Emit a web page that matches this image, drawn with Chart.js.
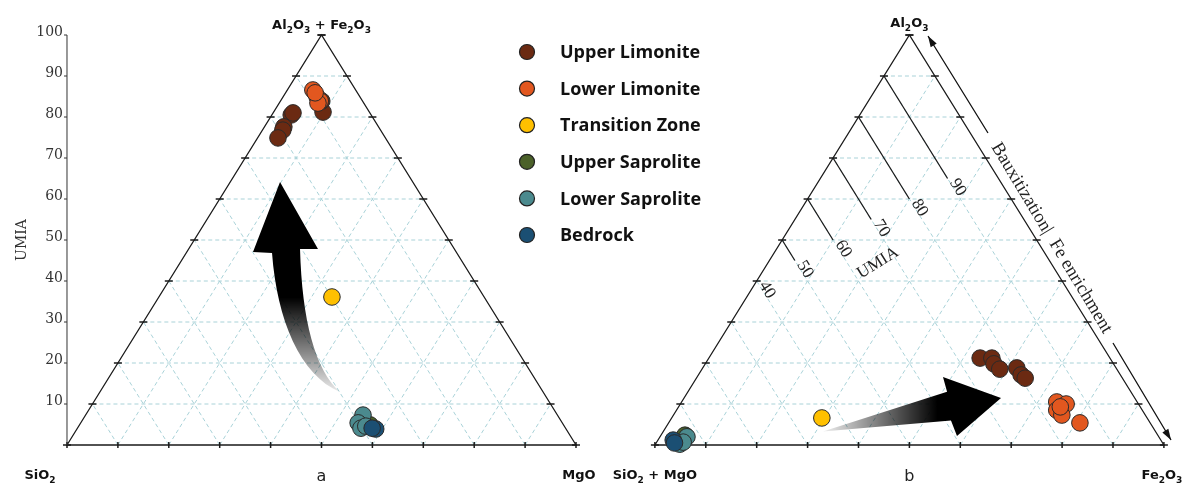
<!DOCTYPE html>
<html><head><meta charset="utf-8">
<script src="https://cdn.jsdelivr.net/npm/chart.js@4.4.0/dist/chart.umd.min.js"></script>
<style>html,body{margin:0;padding:0;background:#fff;}#wrap{width:1184px;height:484px;position:relative;}</style>
</head><body><div id="wrap"><canvas id="c"></canvas></div>
<script>
// ---------------- data ----------------
const seriesNames = ['Upper Limonite','Lower Limonite','Transition Zone','Upper Saprolite','Lower Saprolite','Bedrock'];
const seriesColors = ['#6b2a12','#e2571f','#ffc000','#4b6129','#4b8a8e','#1b4f73'];

// Diagram a : [SiO2, Al2O3+Fe2O3, MgO] (%)
const aUpperLimonite = [[15.7,80.5,3.8],[15.1,81.0,3.9],[18.6,77.6,3.8],[19.2,76.8,4.0],[21.1,74.9,4.0],[9.1,81.2,9.7],[8.0,83.9,8.1]];
const aLowerLimonite = [[8.4,86.6,5.0],[8.4,84.9,6.7],[8.3,83.9,7.8],[9.0,83.4,7.6],[8.3,85.9,5.8]];
const aTransition    = [[29.9,36.1,34.0]];
const aUpperSaprolite= [[38.0,4.9,57.1]];
const aLowerSaprolite= [[38.2,7.3,54.5],[40.1,5.4,54.5],[40.2,4.1,55.7],[39.0,4.6,56.4]];
const aBedrock       = [[37.4,3.9,58.7],[38.0,4.1,57.9]];

// Diagram b : [SiO2+MgO, Al2O3, Fe2O3] (%)
const bUpperLimonite = [[25.5,21.2,53.3],[23.2,21.2,55.6],[23.5,19.8,56.7],[23.0,18.5,58.5],[19.5,18.8,61.7],[19.5,17.1,63.4],[19.1,16.3,64.6]];
const bLowerLimonite = [[15.8,10.5,73.7],[14.2,10.0,75.8],[16.8,8.5,74.7],[16.4,7.3,76.3],[13.8,5.4,80.8],[15.7,9.3,75.0]];
const bTransition    = [[63.9,6.6,29.5]];
const bUpperSaprolite= [[92.9,2.4,4.7]];
const bLowerSaprolite= [[92.7,2.0,5.3],[95.0,0.2,4.8],[94.1,0.7,5.2]];
const bBedrock       = [[95.8,1.2,3.0],[95.9,0.5,3.6]];

const yTicks = [10,20,30,40,50,60,70,80,90,100];
const gridLevels = [10,20,30,40,50,60,70,80,90];
const tickLevels = [0,10,20,30,40,50,60,70,80,90,100];
const umiaLabels = ['40','50','60','70','80','90'];
const umiaValues = [40,50,60,70,80,90];
const umiaLineFe = [0,5,10,15,20,25];

const aSeries = [aUpperLimonite,aLowerLimonite,aTransition,aUpperSaprolite,aLowerSaprolite,aBedrock];
const bSeries = [bUpperLimonite,bLowerLimonite,bTransition,bUpperSaprolite,bLowerSaprolite,bBedrock];

// ---------------- layout ----------------
const B_OFFSET = 115.5;
const X_MIN=-13.163, X_MAX=219.45, Y_MIN=-9.512, Y_MAX=108.54;
function tern(off, top, right){ return {x: off + right + top/2, y: top}; }

function drawChem(ctx, str, cx, baseY, size, align){
  const parts = str.split(/_(\d)/);
  const mainF = 'bold '+size+'px "DejaVu Sans"';
  const subF = 'bold '+Math.round(size*0.7)+'px "DejaVu Sans"';
  let w=0;
  parts.forEach((p,i)=>{ ctx.font = i%2? subF: mainF; w += ctx.measureText(p).width; });
  let x = align==='left'? cx : cx - w/2;
  ctx.textAlign='left'; ctx.textBaseline='alphabetic'; ctx.fillStyle='#111';
  parts.forEach((p,i)=>{
    ctx.font = i%2? subF: mainF;
    ctx.fillText(p, x, baseY + (i%2? size*0.28:0));
    x += ctx.measureText(p).width;
  });
}

const triPlugin = {
  id:'tri',
  beforeDatasetsDraw(chart){
    const ctx = chart.ctx;
    const X = v=>chart.scales.x.getPixelForValue(v), Y = v=>chart.scales.y.getPixelForValue(v);
    const P = p=>[X(p.x), Y(p.y)];
    const line=(a,b)=>{ctx.beginPath(); ctx.moveTo(...P(a)); ctx.lineTo(...P(b)); ctx.stroke();};
    ctx.save();
    [0,B_OFFSET].forEach(off=>{
      ctx.strokeStyle='#a9d2d8'; ctx.lineWidth=1; ctx.setLineDash([4,3]);
      gridLevels.forEach(k=>{
        line(tern(off,k,0), tern(off,k,100-k));
        line(tern(off,0,k), tern(off,100-k,k));
        line(tern(off,0,100-k), tern(off,100-k,0));
      });
      ctx.setLineDash([]);
      ctx.strokeStyle='#1a1a1a'; ctx.lineWidth=1.3;
      ctx.beginPath(); ctx.moveTo(...P(tern(off,0,0))); ctx.lineTo(...P(tern(off,0,100))); ctx.lineTo(...P(tern(off,100,0))); ctx.closePath(); ctx.stroke();
      ctx.lineWidth=1.5;
      tickLevels.forEach(k=>{
        let [x,y]=P(tern(off,k,0)); ctx.beginPath(); ctx.moveTo(x-4,y); ctx.lineTo(x+4,y); ctx.stroke();
        [x,y]=P(tern(off,k,100-k)); ctx.beginPath(); ctx.moveTo(x-4,y); ctx.lineTo(x+4,y); ctx.stroke();
        [x,y]=P(tern(off,0,k)); ctx.beginPath(); ctx.moveTo(x,y-3); ctx.lineTo(x,y+3); ctx.stroke();
      });
    });
    // left y axis (UMIA)
    ctx.strokeStyle='#333'; ctx.lineWidth=1;
    ctx.beginPath(); ctx.moveTo(X(0),Y(0)); ctx.lineTo(X(0),Y(100)); ctx.stroke();
    ctx.font='14px "DejaVu Serif"'; ctx.fillStyle='#333'; ctx.textAlign='right'; ctx.textBaseline='alphabetic';
    yTicks.forEach(v=>{
      ctx.beginPath(); ctx.moveTo(X(0)-3,Y(v)); ctx.lineTo(X(0),Y(v)); ctx.stroke();
      ctx.fillText(String(v), X(0)-4, Y(v)+1);
    });
    ctx.save(); ctx.translate(X(0)-45, Y(50)); ctx.rotate(-Math.PI/2); ctx.textAlign='center'; ctx.textBaseline='middle';
    ctx.font='14px "DejaVu Serif"'; ctx.fillText('UMIA',0,0); ctx.restore();

    // UMIA lines in diagram b
    const e0=P(tern(B_OFFSET,100,0)), e1=P(tern(B_OFFSET,0,100));
    const ang=Math.atan2(e1[1]-e0[1], e1[0]-e0[0]);
    const ca=Math.cos(ang), sa=Math.sin(ang);
    ctx.strokeStyle='#1a1a1a'; ctx.lineWidth=1.3;
    umiaValues.forEach((u,i)=>{
      const s=P(tern(B_OFFSET,u,0)), e=P(tern(B_OFFSET,u-umiaLineFe[i],umiaLineFe[i]));
      if(umiaLineFe[i]>0){ ctx.beginPath(); ctx.moveTo(...s); ctx.lineTo(...e); ctx.stroke(); }
      const lx=e[0]+13*ca+4*sa, ly=e[1]+13*sa-4*ca;
      ctx.save(); ctx.translate(lx,ly); ctx.rotate(ang); ctx.font='17px "Liberation Serif"'; ctx.fillStyle='#222';
      ctx.textAlign='center'; ctx.textBaseline='middle'; ctx.fillText(umiaLabels[i],0,0); ctx.restore();
    });
    ctx.save(); ctx.translate(X(159.33),Y(44.39)); ctx.rotate(ang-Math.PI/2); ctx.font='17px "Liberation Serif"'; ctx.fillStyle='#222';
    ctx.textAlign='center'; ctx.textBaseline='middle'; ctx.fillText('UMIA',0,0); ctx.restore();

    // Bauxitization / Fe enrichment arrow
    const bs=[X(169.16),Y(99.76)], b1=[X(180.94),Y(76.10)], b2=[X(205.5),Y(24.88)], be=[X(216.9),Y(1.22)];
    const bang=Math.atan2(be[1]-bs[1], be[0]-bs[0]);
    ctx.strokeStyle='#111'; ctx.fillStyle='#111'; ctx.lineWidth=1.3;
    ctx.beginPath(); ctx.moveTo(...bs); ctx.lineTo(...b1); ctx.moveTo(...b2); ctx.lineTo(...be); ctx.stroke();
    const head=(p,a)=>{ ctx.save(); ctx.translate(p[0],p[1]); ctx.rotate(a); ctx.beginPath(); ctx.moveTo(0,0); ctx.lineTo(-11,-3.5); ctx.lineTo(-11,3.5); ctx.closePath(); ctx.fill(); ctx.restore(); };
    head(bs, bang+Math.PI); head(be, bang);
    ctx.save(); ctx.translate((b1[0]+b2[0])/2+1,(b1[1]+b2[1])/2); ctx.rotate(bang); ctx.font='18.5px "Liberation Serif"'; ctx.fillStyle='#222';
    ctx.textAlign='center'; ctx.textBaseline='middle'; ctx.fillText('Bauxitization|  Fe enrichment',0,0); ctx.restore();

    // curved arrow (diagram a)
    let g=ctx.createLinearGradient(0,Y(36),0,Y(12.9));
    g.addColorStop(0,'rgba(0,0,0,1)'); g.addColorStop(1,'rgba(0,0,0,0.08)');
    ctx.fillStyle=g;
    ctx.beginPath();
    ctx.moveTo(X(45.78),Y(47.80)); ctx.lineTo(X(49.31),Y(47.80)); ctx.lineTo(X(41.85),Y(64.15)); ctx.lineTo(X(36.54),Y(47.07)); ctx.lineTo(X(40.28),Y(46.83));
    ctx.bezierCurveTo(X(41.26),Y(30.49),X(45.78),Y(17.07),X(53.63),Y(12.93));
    ctx.bezierCurveTo(X(48.72),Y(18.29),X(46.17),Y(30.49),X(45.78),Y(47.80));
    ctx.closePath(); ctx.fill();

    // straight arrow (diagram b)
    g=ctx.createLinearGradient(X(148.5),0,X(171),0);
    g.addColorStop(0,'rgba(0,0,0,0.06)'); g.addColorStop(1,'rgba(0,0,0,1)');
    ctx.fillStyle=g;
    ctx.beginPath();
    ctx.moveTo(X(148.5),Y(3.3)); ctx.lineTo(X(172.9),Y(13.0)); ctx.lineTo(X(172.1),Y(16.6)); ctx.lineTo(X(183.5),Y(11.46));
    ctx.lineTo(X(174.85),Y(2.2)); ctx.lineTo(X(173.67),Y(6.0)); ctx.closePath(); ctx.fill();
    ctx.restore();
  },
  afterDraw(chart){
    const ctx=chart.ctx;
    const X = v=>chart.scales.x.getPixelForValue(v), Y = v=>chart.scales.y.getPixelForValue(v);
    ctx.save();
    drawChem(ctx,'Al_2O_3 + Fe_2O_3', X(50), Y(100)-6, 13);
    drawChem(ctx,'SiO_2', X(0)-27, Y(0)+34, 13);
    drawChem(ctx,'MgO', X(100)+3, Y(0)+34, 13);
    drawChem(ctx,'Al_2O_3', X(B_OFFSET+50), Y(100)-8, 13);
    drawChem(ctx,'SiO_2 + MgO', X(B_OFFSET), Y(0)+34, 13);
    drawChem(ctx,'Fe_2O_3', X(B_OFFSET+100)-2, Y(0)+34, 13);
    ctx.font='16px "DejaVu Sans"'; ctx.fillStyle='#222'; ctx.textAlign='center'; ctx.textBaseline='alphabetic';
    ctx.fillText('a', X(50), Y(0)+36); ctx.fillText('b', X(B_OFFSET+50), Y(0)+36);
    chart.data.datasets.forEach((ds,i)=>{
      const y=52+i*36.6;
      ctx.beginPath(); ctx.arc(527,y,7.5,0,Math.PI*2); ctx.fillStyle=ds.backgroundColor; ctx.fill();
      ctx.lineWidth=1.2; ctx.strokeStyle='#222'; ctx.stroke();
      ctx.font='bold 18px "Open Sans"'; ctx.fillStyle='#111'; ctx.textAlign='left'; ctx.textBaseline='middle';
      ctx.fillText(ds.label, 560, y+1);
    });
    ctx.restore();
  }
};

const datasets = seriesNames.map((n,i)=>({
  label:n,
  data:[...aSeries[i].map(p=>tern(0,p[1],p[2])), ...bSeries[i].map(p=>tern(B_OFFSET,p[1],p[2]))],
  backgroundColor:seriesColors[i], borderColor:'#2a2a2a', borderWidth:1,
  pointRadius:8.3, pointHoverRadius:8.3, order:6-i
}));

new Chart(document.getElementById('c'), {
  type:'scatter',
  data:{datasets},
  options:{
    responsive:true, maintainAspectRatio:false, animation:false, devicePixelRatio:1,
    layout:{padding:0, autoPadding:false}, events:[],
    plugins:{legend:{display:false}, tooltip:{enabled:false}},
    scales:{x:{type:'linear',min:X_MIN,max:X_MAX,display:false}, y:{type:'linear',min:Y_MIN,max:Y_MAX,display:false}}
  },
  plugins:[triPlugin]
});
</script></body></html>
